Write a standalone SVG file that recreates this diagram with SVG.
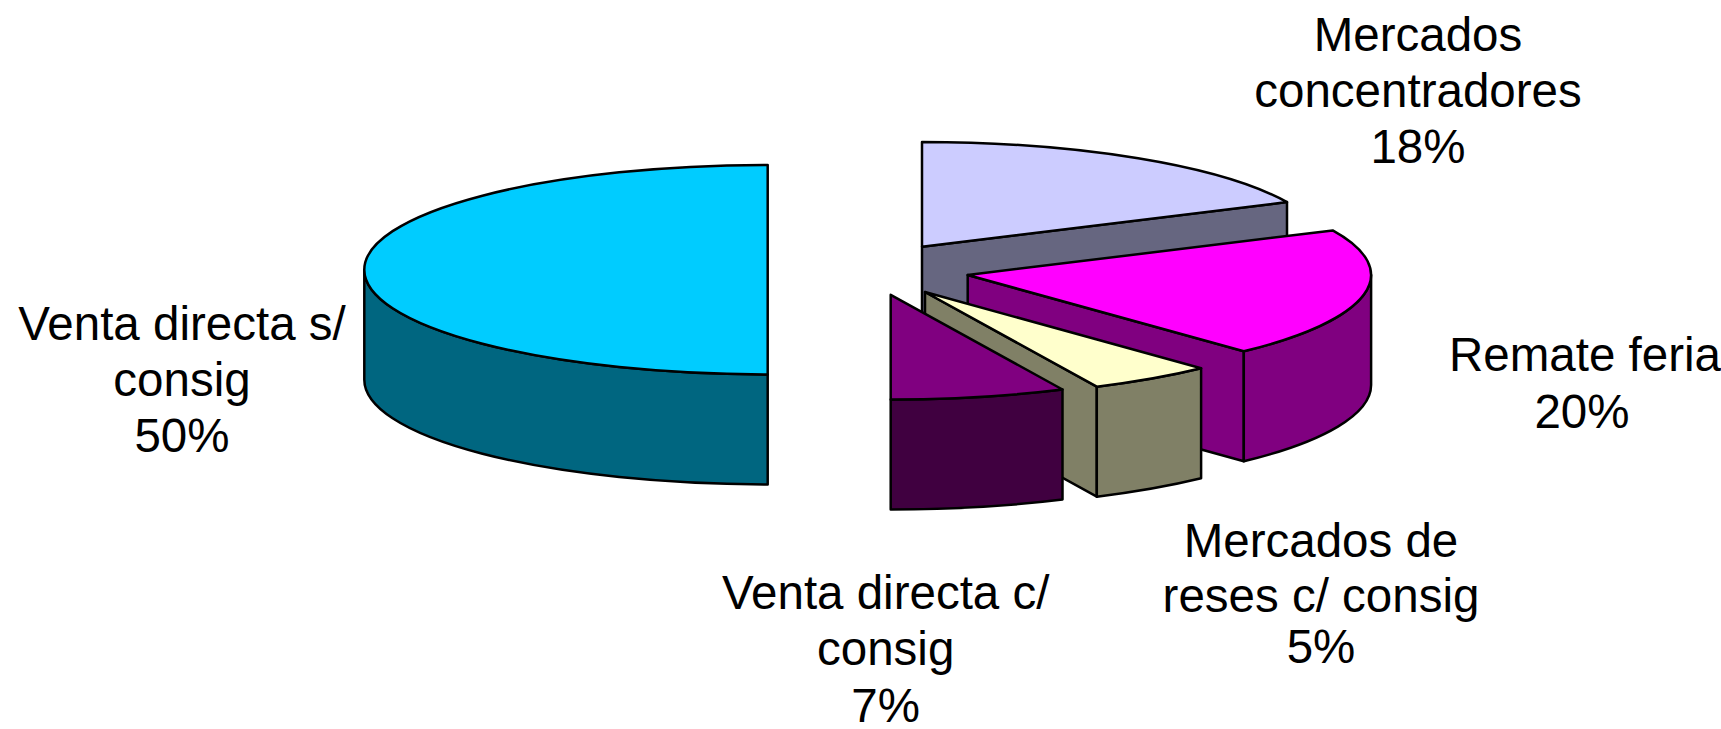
<svg xmlns="http://www.w3.org/2000/svg" width="1721" height="729" viewBox="0 0 1721 729">
<style>
.e{stroke:#000;stroke-width:2.5;stroke-linejoin:round}
.lbl{font-family:"Liberation Sans",Arial,sans-serif;font-size:47.5px;fill:#000;text-anchor:middle}
</style>
<rect width="1721" height="729" fill="#fff"/>
<g id="slice-venta-s">
<path class="e" fill="#006680" d="M364.3,269.7 A403.4,104.7 0 0 0 767.7,374.4 L767.7,484.4 A403.4,104.7 0 0 1 364.3,379.7 Z"/>
<path class="e" fill="#00CCFF" d="M767.7,374.4 L767.7,165 A403.4,104.7 0 0 0 767.7,374.4 Z"/>
</g>
<g id="slice-concentradores">
<path class="e" fill="#666680" d="M922,246.7 L1287,202.1 L1287,312.1 L922,356.7 Z"/>
<path class="e" fill="#CCCCFF" d="M922,246.7 L922,142 A403.4,104.7 0 0 1 1287,202.1 Z"/>
</g>
<g id="slice-remate">
<path class="e" fill="#800080" d="M967.7,275 L1243.8,351.3 L1243.8,461.3 L967.7,385 Z"/>
<path class="e" fill="#800080" d="M1371.1,275 A403.4,104.7 0 0 1 1243.8,351.3 L1243.8,461.3 A403.4,104.7 0 0 0 1371.1,385 Z"/>
<path class="e" fill="#FF00FF" d="M967.7,275 L1332.7,230.4 A403.4,104.7 0 0 1 1243.8,351.3 Z"/>
</g>
<g id="slice-reses">
<path class="e" fill="#808066" d="M925,292 L1096.8,386.7 L1096.8,496.7 L925,402 Z"/>
<path class="e" fill="#808066" d="M1201.1,368.3 A403.4,104.7 0 0 1 1096.8,386.7 L1096.8,496.7 A403.4,104.7 0 0 0 1201.1,478.3 Z"/>
<path class="e" fill="#FFFFCC" d="M925,292 L1201.1,368.3 A403.4,104.7 0 0 1 1096.8,386.7 Z"/>
</g>
<g id="slice-venta-c">
<path class="e" fill="#400040" d="M1062.5,389.5 A403.4,104.7 0 0 1 890.7,399.5 L890.7,509.5 A403.4,104.7 0 0 0 1062.5,499.5 Z"/>
<path class="e" fill="#800080" d="M890.7,294.8 L1062.5,389.5 A403.4,104.7 0 0 1 890.7,399.5 Z"/>
</g>
<g id="connectors"></g>
<g id="labels">
<text class="lbl" x="1418" y="50.7">Mercados</text>
<text class="lbl" x="1418" y="107">concentradores</text>
<text class="lbl" x="1418" y="163.3">18%</text>
<text class="lbl" x="1585" y="371">Remate feria</text>
<text class="lbl" x="1582" y="428">20%</text>
<text class="lbl" x="1321" y="557.3">Mercados de</text>
<text class="lbl" x="1321" y="612.3">reses c/ consig</text>
<text class="lbl" x="1321" y="663.3">5%</text>
<text class="lbl" x="885.7" y="608.5">Venta directa c/</text>
<text class="lbl" x="885.7" y="665">consig</text>
<text class="lbl" x="885.7" y="721.5">7%</text>
<text class="lbl" x="182" y="340">Venta directa s/</text>
<text class="lbl" x="182" y="396">consig</text>
<text class="lbl" x="182" y="452">50%</text>
</g>
</svg>
